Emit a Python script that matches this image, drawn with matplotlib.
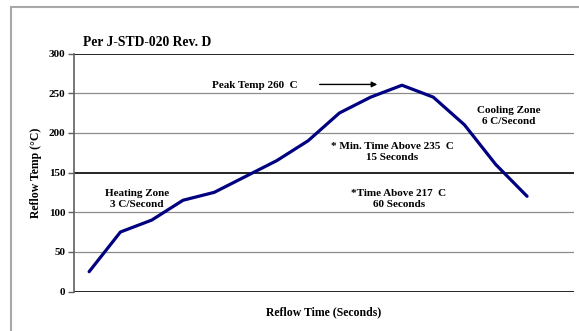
import matplotlib
matplotlib.use('Agg')
import matplotlib.pyplot as plt
from matplotlib.patches import Rectangle

# profile points, one per time step (x axis has no labels)
steps = list(range(1, 16))
temps = [25, 75, 90, 115, 125, 145, 165, 190, 225, 245, 260, 245, 210, 160, 120]
y_ticks = [0, 50, 100, 150, 200, 250, 300]

plt.rcParams['font.family'] = ['Liberation Serif', 'DejaVu Serif']
plt.rcParams['font.weight'] = 'bold'

fig = plt.figure(figsize=(5.79, 3.31), dpi=100)
# outer gray frame of the chart object
fig.patches.append(Rectangle((11 / 579, -0.05), 1.0, 1 - 7 / 331 + 0.05,
                             transform=fig.transFigure, fill=False,
                             edgecolor='#a8a8a8', linewidth=1.5))

ax = fig.add_axes([73.5 / 579, 1 - 291.5 / 331, (574 - 73.5) / 579, (291.5 - 53.5) / 331])
ax.set_xlim(0.5, 16.5)
ax.set_ylim(0, 300)

# horizontal grid lines, 150 line drawn dark like the original
for t in y_ticks:
    if t in (0, 150, 300):
        ax.axhline(t, color='black', linewidth=1.2, zorder=1)
    else:
        ax.axhline(t, color='#8c8c8c', linewidth=0.9, zorder=1)

ax.plot(steps, temps, color='#000080', linewidth=2.3, solid_capstyle='round',
        solid_joinstyle='round', zorder=3)

for s in ['top', 'right', 'bottom']:
    ax.spines[s].set_visible(False)
ax.spines['left'].set_color('#606060')
ax.spines['left'].set_linewidth(1.2)

ax.set_xticks([])
ax.set_yticks(y_ticks)
ax.tick_params(axis='y', length=4, width=1, color='#606060', labelsize=8, pad=2)
for lbl in ax.get_yticklabels():
    lbl.set_fontweight('bold')

ax.set_ylabel('Reflow Temp (°C)', fontsize=8.5, fontweight='bold', labelpad=5)
ax.set_xlabel('Reflow Time (Seconds)', fontsize=8.5, fontweight='bold', labelpad=11)

fig.text(83 / 579, 1 - 42 / 331, 'Per J-STD-020 Rev. D', fontsize=9.8, fontweight='bold',
         ha='left', va='center')

ax.annotate('', xy=(10.3, 261), xytext=(8.28, 261),
            arrowprops=dict(arrowstyle='-|>', color='black', lw=1, mutation_scale=8))
ax.text(6.3, 260, 'Peak Temp 260  C', fontsize=8, ha='center', va='center')
ax.text(2.53, 117, 'Heating Zone\n3 C/Second', fontsize=8, ha='center', va='center',
        linespacing=1.25)
ax.text(14.4, 221, 'Cooling Zone\n6 C/Second', fontsize=8, ha='center', va='center',
        linespacing=1.25)
ax.text(10.68, 176, '* Min. Time Above 235  C\n15 Seconds', fontsize=8, ha='center',
        va='center', linespacing=1.25)
ax.text(10.9, 116.6, '*Time Above 217  C\n60 Seconds', fontsize=8, ha='center',
        va='center', linespacing=1.25)

fig.savefig('out.png', dpi=100)
